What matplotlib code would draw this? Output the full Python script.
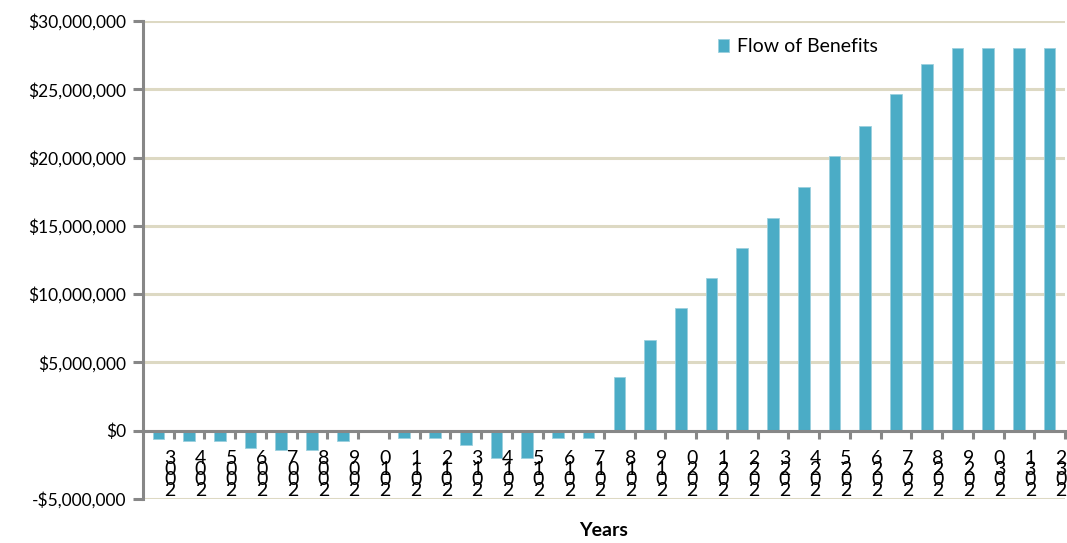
import matplotlib
matplotlib.use("Agg")
import matplotlib.pyplot as plt
from matplotlib.ticker import FuncFormatter, FixedLocator

plt.rcParams['font.family'] = ['Lato', 'DejaVu Sans']

years = list(range(2003, 2033))
benefits = [-0.64e6, -0.78e6, -0.78e6, -1.27e6, -1.39e6, -1.39e6, -0.78e6, 0.0,
            -0.51e6, -0.51e6, -1.02e6, -2.0e6, -2.0e6, -0.51e6, -0.51e6,
            3.96e6, 6.64e6, 8.96e6, 11.15e6, 13.4e6, 15.6e6, 17.83e6, 20.15e6,
            22.34e6, 24.65e6, 26.84e6, 28.0e6, 28.0e6, 28.0e6, 28.0e6]
y_ticks = [-5e6, 0, 5e6, 10e6, 15e6, 20e6, 25e6, 30e6]

bar_color = '#4BACC6'
grid_color = '#DDD9C3'
axis_color = '#878787'

fig = plt.figure(figsize=(10.67, 5.43), dpi=100)
ax = fig.add_axes([143/1067, 1 - 499/543, (1065 - 143)/1067, (499 - 21)/543])

x = list(range(len(years)))
ax.bar(x, benefits, width=0.38, color=bar_color, edgecolor='#9BD0DE', linewidth=0.6,
       label='Flow of Benefits', zorder=3)

ax.set_xlim(-0.5, len(years) - 0.5)
ax.set_ylim(y_ticks[0], y_ticks[-1])
ax.yaxis.set_major_locator(FixedLocator(y_ticks))

def money(v, pos):
    if v < 0:
        return '-${:,.0f}'.format(-v)
    return '${:,.0f}'.format(v)
ax.yaxis.set_major_formatter(FuncFormatter(money))

ax.grid(axis='y', color=grid_color, linewidth=2.2, zorder=0)
ax.set_axisbelow(True)

for s in ['top', 'right']:
    ax.spines[s].set_visible(False)
ax.spines['left'].set_color(axis_color)
ax.spines['left'].set_linewidth(2.2)
ax.spines['bottom'].set_position(('data', 0))
ax.spines['bottom'].set_color(axis_color)
ax.spines['bottom'].set_linewidth(2.2)
ax.spines['bottom'].set_zorder(4)

ax.xaxis.set_major_locator(FixedLocator([i + 0.5 for i in x]))
ax.set_xticklabels([])
ax.tick_params(axis='x', direction='out', length=6, width=2.2, color=axis_color)
ax.tick_params(axis='y', direction='out', length=7, width=2.2, color=axis_color,
               labelsize=12.5, pad=5)

for i, yr in zip(x, years):
    lab = '\n'.join(reversed(str(yr)))
    ax.text(i + 0.37, -1.42e6, lab, ha='center', va='top', fontsize=14,
            linespacing=0.54, color='black', zorder=5)

fig.text(604/1067, 1 - 531/543, 'Years', ha='center', va='center',
         fontsize=14, fontweight='bold')

ax.legend(loc='center left', bbox_to_anchor=(708/1067, 1 - 47/543),
          bbox_transform=fig.transFigure, frameon=False, fontsize=14,
          handlelength=0.6, handleheight=0.6, handletextpad=0.4, borderpad=0)

fig.savefig('out.png', dpi=100)
